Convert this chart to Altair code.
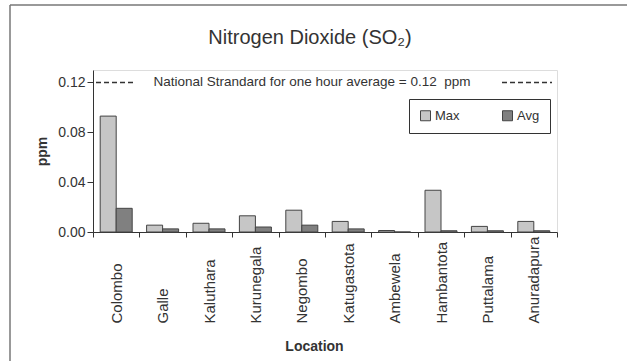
import altair as alt
import pandas as pd

locations = ["Colombo", "Galle", "Kaluthara", "Kurunegala", "Negombo",
             "Katugastota", "Ambewela", "Hambantota", "Puttalama", "Anuradapura"]
max_vals = [0.093, 0.0055, 0.007, 0.013, 0.0175, 0.0085, 0.0012, 0.0335, 0.0045, 0.0085]
avg_vals = [0.019, 0.0025, 0.0025, 0.004, 0.0055, 0.0025, 0.0, 0.001, 0.001, 0.001]
series = ["Max", "Avg"]
y_ticks = [0.0, 0.04, 0.08, 0.12]
standard = 0.12
standard_text = "National Strandard for one hour average = 0.12\u00a0 ppm"

rows = []
for loc, mx, av in zip(locations, max_vals, avg_vals):
    rows.append({"Location": loc, "Series": "Max", "Value": mx})
    rows.append({"Location": loc, "Series": "Avg", "Value": av})
df = pd.DataFrame(rows)

FONT = "Liberation Sans"
TXT = "#333333"

bars = alt.Chart(df).mark_bar(stroke="#444444", strokeWidth=1).encode(
    x=alt.X("Location:N", sort=locations,
            scale=alt.Scale(paddingInner=0, paddingOuter=0),
            axis=alt.Axis(labelAngle=270, labelAlign="left", labelBaseline="middle",
                          labelPadding=86, tickBand="extent", tickSize=5,
                          labelFontSize=15, labelColor=TXT, labelFont=FONT,
                          domainColor=TXT, tickColor=TXT,
                          title="Location", titleFont=FONT, titleFontSize=14,
                          titleFontWeight="bold", titleColor=TXT,
                          titleX=221, titleY=114, titleBaseline="middle",
                          titleAlign="center")),
    xOffset=alt.XOffset("Series:N", sort=series,
                        scale=alt.Scale(paddingOuter=0.45, paddingInner=0)),
    y=alt.Y("Value:Q", scale=alt.Scale(domain=[0, 0.13], nice=False),
            axis=alt.Axis(values=y_ticks, format=".2f", title="ppm",
                          titleFont=FONT, titleFontSize=14, titleFontWeight="bold",
                          titleColor=TXT, labelFont=FONT, labelFontSize=14,
                          labelColor=TXT, tickSize=6, labelPadding=2, grid=False,
                          domainColor=TXT, tickColor=TXT, titlePadding=8)),
    color=alt.Color("Series:N", sort=series,
                    scale=alt.Scale(domain=series, range=["#c6c6c6", "#808080"]),
                    legend=alt.Legend(title=None, orient="none", legendX=316, legendY=29,
                                      direction="horizontal", symbolType="square",
                                      symbolSize=100, labelFontSize=13, labelFont=FONT,
                                      labelColor=TXT, padding=10, columnPadding=40,
                                      strokeColor="#333333", fillColor="white",
                                      symbolStrokeColor="#444444", symbolStrokeWidth=1,
                                      labelOffset=3)),
)

ref_data = alt.Data(values=[{"v": standard}])
rule_left = alt.Chart(ref_data).mark_rule(color=TXT, strokeWidth=1.5, strokeDash=[5, 3]).encode(
    y=alt.Y("v:Q"), x=alt.value(3), x2=alt.value(41))
rule_right = alt.Chart(ref_data).mark_rule(color=TXT, strokeWidth=1.5, strokeDash=[5, 3]).encode(
    y=alt.Y("v:Q"), x=alt.value(409), x2=alt.value(459))
ref_text = alt.Chart(ref_data).mark_text(font=FONT, fontSize=13.5, color=TXT,
                                          baseline="middle", align="center").encode(
    y=alt.Y("v:Q"), x=alt.value(219), text=alt.value(standard_text))

frame_data = alt.Data(values=[{"f": 1}])
frame_top = alt.Chart(frame_data).mark_rule(color="#999999", strokeWidth=2).encode(
    x=alt.value(-83), x2=alt.value(534), y=alt.value(-65))
frame_left = alt.Chart(frame_data).mark_rule(color="#777777", strokeWidth=1.5).encode(
    x=alt.value(-83), y=alt.value(-65), y2=alt.value(291))

chart = alt.layer(frame_top, frame_left, bars, rule_left, rule_right, ref_text).resolve_scale(
    y="shared").properties(
    width=464, height=162,
    autosize=alt.AutoSizeParams(type="none"),
    padding={"left": 93, "top": 70, "right": 70, "bottom": 129},
    title=alt.TitleParams("Nitrogen Dioxide (SO\u2082)", font=FONT, fontSize=20,
                          fontWeight="normal", color=TXT, anchor="middle",
                          dx=-15, dy=44, offset=0),
).configure_view(stroke="#999999", strokeDash=[1, 2]).configure(background="white")

chart.save("out.html", embed_options={"renderer": "svg", "actions": False})
